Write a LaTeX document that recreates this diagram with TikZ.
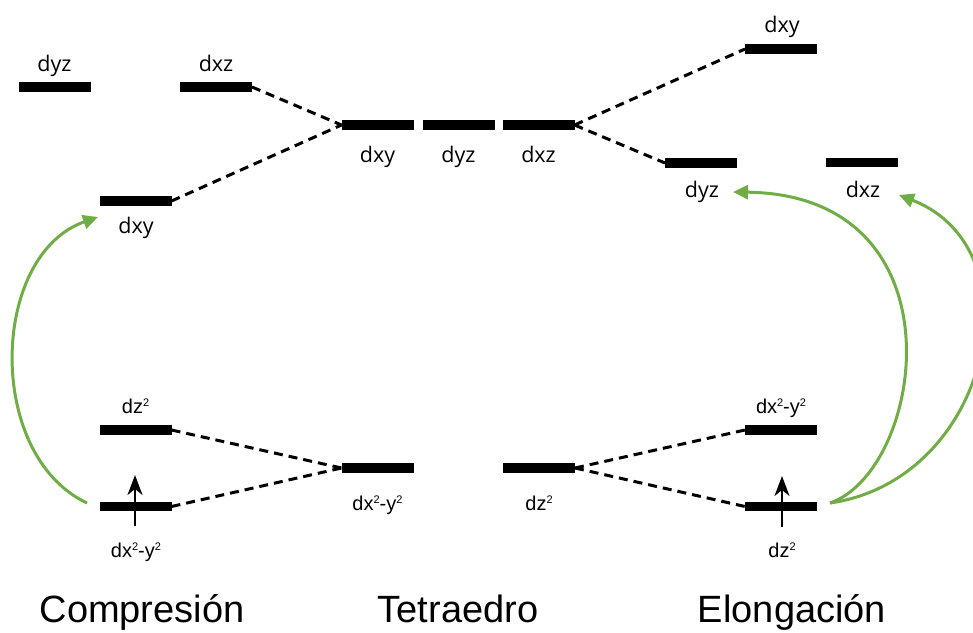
\documentclass[tikz,border=0pt]{standalone}
\usepackage{fontspec}
\setmainfont{Liberation Sans}
\newfontfamily\osans{Open Sans}
\usetikzlibrary{arrows.meta}
\definecolor{grn}{HTML}{70AD47}
\newcommand\suptwo{\raisebox{6.8pt}{\fontsize{11}{11}\selectfont 2}}
\begin{document}
\begin{tikzpicture}[x=1pt,y=-1pt,
  lvl/.style={fill=black,minimum width=72pt,minimum height=9.5pt,inner sep=0pt,outer sep=0pt},
  toplab/.style={font=\osans\fontsize{21.5}{24}\selectfont,anchor=base,inner sep=0pt},
  botlab/.style={font=\fontsize{20}{24}\selectfont,anchor=base,inner sep=0pt},
  ttl/.style={font=\fontsize{38}{44}\selectfont,anchor=base,inner sep=0pt},
  corr/.style={line width=3pt,dash pattern=on 9pt off 6pt},
  trans/.style={draw=grn,line width=3pt,-{Triangle[length=15pt,width=14pt,fill=grn]}},
  spin/.style={line width=2pt,-{Stealth[length=20pt,width=15pt,inset=6pt]}}]
\useasboundingbox (0,0) rectangle (973,632);
% levels
\node[lvl] (Lyz) at (54.5,87) {};
\node[lvl] (Lxz) at (216,87) {};
\node[lvl] (Lxy) at (135.5,201) {};
\node[lvl] (Lz2) at (135.5,430) {};
\node[lvl] (Lx2) at (135.5,506.5) {};
\node[lvl] (Mxy) at (377.5,125) {};
\node[lvl] (Myz) at (458.5,125) {};
\node[lvl] (Mxz) at (538.5,125) {};
\node[lvl] (Mx2) at (377.5,468) {};
\node[lvl] (Mz2) at (539,468) {};
\node[lvl] (Rxy) at (781,49) {};
\node[lvl] (Ryz) at (701,163) {};
\node[lvl] (Rxz) at (861.5,162.5) {};
\node[lvl] (Rx2) at (781,430) {};
\node[lvl] (Rz2) at (781,506.5) {};
% labels
\node[toplab] (tLyz) at (54.5,71) {dyz};
\node[toplab] (tLxz) at (216,71) {dxz};
\node[toplab] (tLxy) at (136,233) {dxy};
\node[toplab] (tMxy) at (377.5,162) {dxy};
\node[toplab] (tMyz) at (458.5,162) {dyz};
\node[toplab] (tMxz) at (538.5,162) {dxz};
\node[toplab] (tRxy) at (782,32) {dxy};
\node[toplab] (tRyz) at (702,197) {dyz};
\node[toplab] (tRxz) at (863,197) {dxz};
\node[botlab] (tLz2) at (135.5,413) {dz\suptwo};
\node[botlab] (tLx2) at (136,557) {dx\suptwo-y\suptwo};
\node[botlab] (tMx2) at (377.5,510) {dx\suptwo-y\suptwo};
\node[botlab] (tMz2) at (539,510) {dz\suptwo};
\node[botlab] (tRx2) at (781,413) {dx\suptwo-y\suptwo};
\node[botlab] (tRz2) at (782,557) {dz\suptwo};
% titles
\node[ttl] (c) at (142,622) {Compresión};
\node[ttl] (t) at (458,622) {Tetraedro};
\node[ttl] (e) at (792,622) {Elongación};
% correlation lines
\draw[corr] (Lxz.east) -- (Mxy.west);
\draw[corr] (Lxy.east) -- (Mxy.west);
\draw[corr] (Mxz.east) -- (Rxy.west);
\draw[corr] (Mxz.east) -- (Ryz.west);
\draw[corr] (Lz2.east) -- (Mx2.west);
\draw[corr] (Lx2.east) -- (Mx2.west);
\draw[corr] (Mz2.east) -- (Rx2.west);
\draw[corr] (Mz2.east) -- (Rz2.west);
% spins
\coordinate (sL0) at (135,526);
\coordinate (sL1) at (135,475);
\coordinate (sR0) at (782,527);
\coordinate (sR1) at (782,476);
\draw[spin] (sL0) -- (sL1);
\draw[spin] (sR0) -- (sR1);
% transitions
\coordinate (gL0) at (87,503);
\coordinate (gL1) at (98,217);
\coordinate (gR0) at (830,503);
\coordinate (gR1) at (733,192);
\coordinate (gR2) at (899,195);
\draw[trans] (gL0) .. controls (-15,455) and (-10,255) .. (gL1);
\draw[trans] (gR0) .. controls (925,470) and (965,195) .. (gR1);
\draw[trans] (gR0) .. controls (990,480) and (1040,250) .. (gR2);
\end{tikzpicture}
\end{document}
